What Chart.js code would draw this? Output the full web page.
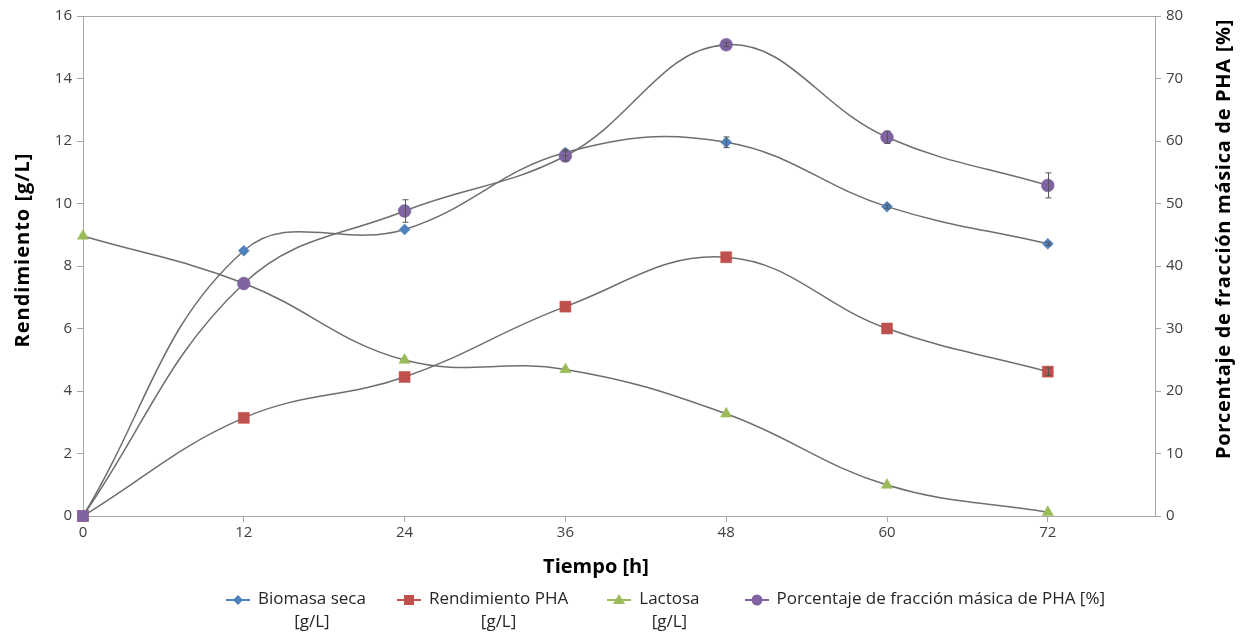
<!DOCTYPE html>
<html>
<head>
<meta charset="utf-8">
<script src="https://cdn.jsdelivr.net/npm/chart.js@4.4.1/dist/chart.umd.min.js"></script>
<style>
  html, body { margin: 0; padding: 0; background: #fff; }
  #wrap { position: relative; width: 1244px; height: 635px; }
  canvas { display: block; }
  #legend { position: absolute; left: 225px; top: 586px; display: flex; align-items: flex-start;
            font-family: "Open Sans", sans-serif; font-size: 17px; color: #262626; }
  .item { display: flex; align-items: flex-start; }
  .item svg { margin-top: 3px; margin-right: 6px; }
  .lbl { text-align: center; line-height: 23px; }
</style>
</head>
<body>
<div id="wrap">
  <canvas id="c" width="1244" height="635"></canvas>
  <div id="legend"></div>
</div>
<script>
// ---- data ----
const tiempo = [0, 12, 24, 36, 48, 60, 72];
const biomasa = [0, 8.49, 9.17, 11.63, 11.96, 9.9, 8.71];
const biomasaErr = [0, 0, 0, 0.1, 0.17, 0.05, 0.05];
const rendimientoPHA = [0, 3.14, 4.45, 6.70, 8.28, 6.0, 4.62];
const rendimientoErr = [0, 0, 0, 0, 0, 0, 0.12];
const lactosa = [8.96, 7.45, 4.99, 4.69, 3.27, 0.99, 0.12];
const lactosaErr = [0, 0, 0, 0, 0, 0, 0];
const porcentajePHA = [0, 37.2, 48.8, 57.6, 75.4, 60.6, 52.9];
const porcentajeErr = [0, 0, 1.8, 0.8, 0.3, 1.0, 2.0];
const xTicks = [0, 12, 24, 36, 48, 60, 72];
const leftTicks = [0, 2, 4, 6, 8, 10, 12, 14, 16];
const rightTicks = [0, 10, 20, 30, 40, 50, 60, 70, 80];
const seriesNames = [["Biomasa seca", "[g/L]"], ["Rendimiento PHA", "[g/L]"], ["Lactosa", "[g/L]"], ["Porcentaje de fracción másica de PHA [%]"]];
const xTitle = "Tiempo [h]";
const yTitle = "Rendimiento [g/L]";
const y2Title = "Porcentaje de fracción másica de PHA [%]";
const colors = ["#4F81BD", "#C0504D", "#9BBB59", "#8064A2"];

const pts = (ys) => tiempo.map((t, i) => ({ x: t, y: ys[i] }));
const FONT = "'Open Sans', sans-serif";
const LINE = "#6e6e6e";
const AXIS = "#a6a6a6";

const errorBars = {
  id: 'errorBars',
  afterDatasetsDraw(chart) {
    const ctx = chart.ctx;
    ctx.save();
    ctx.strokeStyle = '#555';
    ctx.lineWidth = 1;
    chart.data.datasets.forEach((ds) => {
      if (!ds.errors) return;
      const xs = chart.scales.x, ys = chart.scales[ds.yAxisID];
      ds.data.forEach((p, i) => {
        const e = ds.errors[i];
        if (!e) return;
        const px = Math.round(xs.getPixelForValue(p.x)) + 0.5;
        const y1 = ys.getPixelForValue(p.y + e), y2 = ys.getPixelForValue(p.y - e);
        ctx.beginPath();
        ctx.moveTo(px, y1); ctx.lineTo(px, y2);
        ctx.moveTo(px - 3, y1); ctx.lineTo(px + 3, y1);
        ctx.moveTo(px - 3, y2); ctx.lineTo(px + 3, y2);
        ctx.stroke();
      });
    });
    ctx.restore();
  }
};

const frameAndTitles = {
  id: 'frameAndTitles',
  beforeDatasetsDraw(chart) {
    const { ctx, chartArea: a } = chart;
    ctx.save();
    ctx.strokeStyle = AXIS;
    ctx.lineWidth = 1;
    ctx.beginPath();
    ctx.moveTo(a.left, a.top + 0.5); ctx.lineTo(a.right, a.top + 0.5);
    ctx.stroke();
    ctx.restore();
  },
  afterDraw(chart) {
    const { ctx, chartArea: a } = chart;
    const midY = (a.top + a.bottom) / 2;
    const txt = (s, x, y, rot, size, sp) => {
      ctx.save();
      ctx.translate(x, y);
      ctx.rotate(rot);
      ctx.font = "bold " + size + "px " + FONT;
      ctx.letterSpacing = sp + 'px';
      ctx.fillStyle = '#000';
      ctx.textAlign = 'center';
      ctx.textBaseline = 'middle';
      ctx.fillText(s, 0, 0);
      ctx.restore();
    };
    txt(xTitle, 596, 567, 0, 20, 0);
    txt(yTitle, 23, midY - 16, -Math.PI / 2, 20, 1);
    txt(y2Title, 1224, midY - 27, -Math.PI / 2, 20, 0.7);
  }
};

const mk = (label, ys, errs, color, style, radius, axis) => ({
  label, data: pts(ys), errors: errs, yAxisID: axis,
  borderColor: LINE, borderWidth: 1.5,
  pointStyle: style, pointRadius: radius, pointHoverRadius: radius,
  pointBackgroundColor: color, pointBorderColor: color, pointBorderWidth: 0.5,
  tension: 0.4, fill: false, clip: false
});

const datasets = [
  mk(seriesNames[0].join(' '), biomasa, biomasaErr, colors[0], 'rectRot', 5.5, 'y'),
  mk(seriesNames[1].join(' '), rendimientoPHA, rendimientoErr, colors[1], 'rect', 7.8, 'y'),
  mk(seriesNames[2].join(' '), lactosa, lactosaErr, colors[2], 'triangle', 6.5, 'y'),
  mk(seriesNames[3].join(' '), porcentajePHA, porcentajeErr, colors[3], tiempo.map((t, i) => i === 0 ? 'rect' : 'circle'), tiempo.map((t, i) => i === 0 ? 7.8 : 6.4), 'y2'),
];
datasets.forEach((d, i) => d.order = 4 - i);

const tickFont = { family: FONT, size: 15 };
new Chart(document.getElementById('c'), {
  type: 'line',
  data: { datasets },
  plugins: [errorBars, frameAndTitles],
  options: {
    responsive: false,
    animation: false,
    layout: { padding: { left: 0, right: 0, top: 16, bottom: 54 } },
    plugins: { legend: { display: false }, tooltip: { enabled: false } },
    scales: {
      x: {
        type: 'linear', min: 0, max: 80,
        afterBuildTicks: (s) => { s.ticks = xTicks.map(v => ({ value: v })); },
        afterFit: (s) => { s.height = 65; },
        grid: { drawOnChartArea: false, tickLength: 6, color: AXIS },
        border: { color: AXIS },
        ticks: { font: tickFont, color: '#404040', padding: 2 }
      },
      y: {
        position: 'left', min: 0, max: 16,
        afterBuildTicks: (s) => { s.ticks = leftTicks.map(v => ({ value: v })); },
        afterFit: (s) => { s.width = 83; },
        grid: { drawOnChartArea: false, tickLength: 6, color: AXIS },
        border: { color: AXIS },
        ticks: { font: tickFont, color: '#404040', padding: 5 }
      },
      y2: {
        position: 'right', min: 0, max: 80,
        afterBuildTicks: (s) => { s.ticks = rightTicks.map(v => ({ value: v })); },
        afterFit: (s) => { s.width = 89; },
        grid: { drawOnChartArea: false, tickLength: 6, color: AXIS },
        border: { color: AXIS },
        ticks: { font: tickFont, color: '#404040', padding: 5 }
      }
    }
  }
});

// HTML legend built from series names/colors
const legend = document.getElementById('legend');
const gaps = [30, 38, 44, 0];
const markerSvg = (i) => {
  const c = colors[i];
  let m = '';
  if (i === 0) m = `<polygon points="13,6 18,11 13,16 8,11" fill="${c}"/>`;
  if (i === 1) m = `<rect x="8" y="6" width="10" height="10" fill="${c}"/>`;
  if (i === 2) m = `<polygon points="13,5 19,15 7,15" fill="${c}"/>`;
  if (i === 3) m = `<circle cx="13" cy="11" r="5.5" fill="${c}"/>`;
  return `<svg width="27" height="22"><line x1="1" y1="11" x2="25" y2="11" stroke="${c}" stroke-width="2"/>${m}</svg>`;
};
seriesNames.forEach((name, i) => {
  const it = document.createElement('div');
  it.className = 'item';
  it.style.marginRight = gaps[i] + 'px';
  it.innerHTML = markerSvg(i) + `<div class="lbl">${name.join('<br>')}</div>`;
  legend.appendChild(it);
});
</script>
</body>
</html>
